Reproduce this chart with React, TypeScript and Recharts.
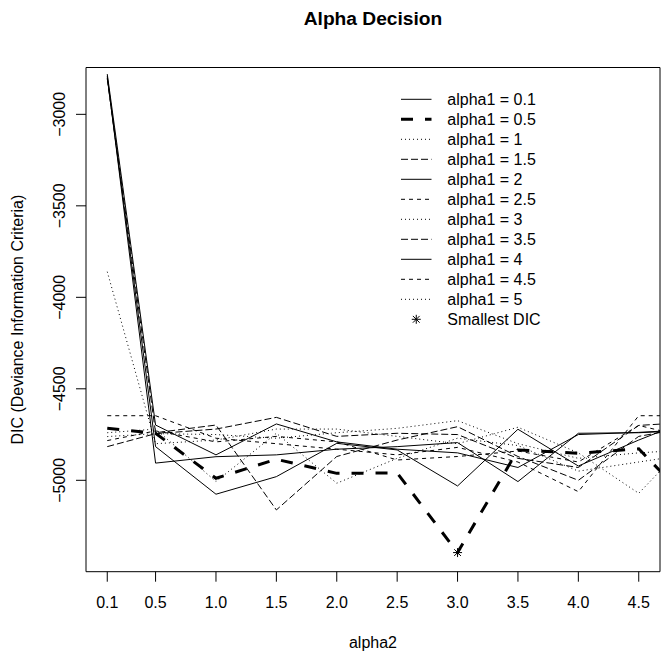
import React from 'react';
import { LineChart, Line, XAxis, YAxis, ReferenceArea, ReferenceDot } from 'recharts';

// ---------- data ----------
const ALPHA2 = [0.1, 0.5, 1.0, 1.5, 2.0, 2.5, 3.0, 3.5, 4.0, 4.5, 5.0];
const X_TICKS = [0.1, 0.5, 1.0, 1.5, 2.0, 2.5, 3.0, 3.5, 4.0, 4.5];
const X_TICK_LABELS = ['0.1', '0.5', '1.0', '1.5', '2.0', '2.5', '3.0', '3.5', '4.0', '4.5'];
const Y_TICKS = [-3000, -3500, -4000, -4500, -5000];
const ALPHA1_LABELS = ['0.1', '0.5', '1', '1.5', '2', '2.5', '3', '3.5', '4', '4.5', '5'];

const DIC_A1_0_1 = [-2790, -4906, -4871, -4861, -4830, -4816, -4794, -5007, -4743, -4740, -4725];
const DIC_A1_0_5 = [-4716, -4743, -4989, -4885, -4962, -4960, -5395, -4834, -4852, -4828, -5170];
const DIC_A1_1 = [-4740, -4720, -5007, -4743, -5016, -4880, -4770, -4810, -4950, -4900, -4850];
const DIC_A1_1_5 = [-2805, -4740, -4698, -5162, -4870, -4780, -4707, -4870, -5000, -4760, -4700];
const DIC_A1_2 = [-2800, -4816, -5076, -4980, -4798, -4834, -5031, -4721, -4922, -4780, -4650];
const DIC_A1_2_5 = [-4647, -4647, -4770, -4800, -4830, -4861, -4820, -4900, -5062, -4647, -4647];
const DIC_A1_3 = [-4761, -4745, -4750, -4770, -4740, -4716, -4674, -4800, -4880, -4850, -4830];
const DIC_A1_3_5 = [-4816, -4745, -4720, -4656, -4760, -4743, -4750, -4880, -4930, -4700, -4680];
const DIC_A1_4 = [-2780, -4698, -4861, -4692, -4790, -4830, -4850, -4930, -4750, -4738, -4720];
const DIC_A1_4_5 = [-4783, -4730, -4790, -4760, -4790, -4889, -4870, -4840, -4900, -4700, -4780];
const DIC_A1_5 = [-3860, -4800, -4780, -4720, -4720, -4760, -4800, -4710, -4850, -5071, -4726];

const DIC_SERIES = [
  DIC_A1_0_1, DIC_A1_0_5, DIC_A1_1, DIC_A1_1_5, DIC_A1_2, DIC_A1_2_5,
  DIC_A1_3, DIC_A1_3_5, DIC_A1_4, DIC_A1_4_5, DIC_A1_5,
];

// ---------- styles ----------
const LINE_DASH = ['', '12 12', '1 3', '7 3', '', '4 4', '1 3', '7 3', '', '4 4', '1 3'];
const LINE_WIDTH = [1, 3, 1, 1, 1, 1, 1, 1, 1, 1, 1];

const X_DOMAIN: [number, number] = [-0.076, 4.676];
const Y_DOMAIN: [number, number] = [-5499.5, -2744];

const FONT = "'Liberation Sans', Arial, Helvetica, sans-serif";

const W = 671;
const H = 661;

const rows = ALPHA2.map((a, i) => {
  const row: Record<string, number> = { x: a };
  DIC_SERIES.forEach((s, k) => {
    row[`s${k}`] = s[i];
  });
  return row;
});

// smallest DIC over all series (visible range)
let best = { x: 0, y: Infinity };
DIC_SERIES.forEach((s) =>
  s.forEach((v, i) => {
    if (ALPHA2[i] <= X_TICKS[X_TICKS.length - 1] && v < best.y) best = { x: ALPHA2[i], y: v };
  })
);

const fmtY = (v: number) => (v < 0 ? '\u2212' + Math.abs(v) : String(v));
const fmtX = (v: number) => {
  const idx = X_TICKS.findIndex((t) => Math.abs(t - v) < 1e-9);
  return idx >= 0 ? X_TICK_LABELS[idx] : String(v);
};

const XTick = (props: any) => {
  const { x, y, payload } = props;
  return (
    <text x={x} y={y} dy={24.6} textAnchor="middle" fontSize={16} fontFamily={FONT} fill="#000">
      {fmtX(payload.value)}
    </text>
  );
};

const YTick = (props: any) => {
  const { x, y, payload } = props;
  return (
    <text
      transform={`translate(${x - 9.5},${y}) rotate(-90)`}
      textAnchor="middle"
      fontSize={16}
      fontFamily={FONT}
      fill="#000"
    >
      {fmtY(payload.value)}
    </text>
  );
};

const Asterisk = (props: any) => {
  const { cx, cy } = props;
  const r = 4.5;
  const d = r * 0.75;
  return (
    <g stroke="#000" strokeWidth={1}>
      <line x1={cx - r} y1={cy} x2={cx + r} y2={cy} />
      <line x1={cx} y1={cy - r} x2={cx} y2={cy + r} />
      <line x1={cx - d} y1={cy - d} x2={cx + d} y2={cy + d} />
      <line x1={cx - d} y1={cy + d} x2={cx + d} y2={cy - d} />
    </g>
  );
};

const LEGEND_X1 = 401;
const LEGEND_X2 = 431.5;
const LEGEND_TEXT_X = 447.3;
const LEGEND_Y0 = 99.3;
const LEGEND_STEP = 20;

export default function App() {
  return (
    <div style={{ position: 'absolute', left: 0, top: 0, width: W, height: H, background: '#fff' }}>
      <LineChart
        width={W}
        height={H}
        data={rows}
        margin={{ top: 67.5, right: 11, bottom: 59.3, left: 46 }}
      >
        <XAxis
          dataKey="x"
          type="number"
          domain={X_DOMAIN}
          allowDataOverflow
          ticks={X_TICKS}
          interval={0}
          height={30}
          tickSize={10}
          tickMargin={2}
          axisLine={false}
          tickLine={{ stroke: '#000', strokeWidth: 1 }}
          tick={<XTick />}
        />
        <YAxis
          type="number"
          domain={Y_DOMAIN}
          allowDataOverflow
          ticks={Y_TICKS}
          interval={0}
          width={40}
          tickSize={10}
          tickMargin={2}
          axisLine={false}
          tickLine={{ stroke: '#000', strokeWidth: 1 }}
          tick={<YTick />}
        />
        <ReferenceArea
          x1={X_DOMAIN[0]}
          x2={X_DOMAIN[1]}
          y1={Y_DOMAIN[0]}
          y2={Y_DOMAIN[1]}
          fill="none"
          fillOpacity={0}
          stroke="#000"
          strokeWidth={1}
          strokeOpacity={1}
        />
        {DIC_SERIES.map((_, k) => (
          <Line
            key={k}
            type="linear"
            dataKey={`s${k}`}
            stroke="#000"
            strokeWidth={LINE_WIDTH[k]}
            strokeDasharray={LINE_DASH[k] || undefined}
            dot={false}
            activeDot={false}
            isAnimationActive={false}
          />
        ))}
        <ReferenceDot x={best.x} y={best.y} r={5} shape={<Asterisk />} />
      </LineChart>
      <svg
        width={W}
        height={H}
        style={{ position: 'absolute', left: 0, top: 0, pointerEvents: 'none' }}
        fontFamily={FONT}
      >
        <text x={373} y={25} textAnchor="middle" fontSize={19.2} fontWeight="bold" fill="#000">
          Alpha Decision
        </text>
        <text x={373} y={648.3} textAnchor="middle" fontSize={16} fill="#000">
          alpha2
        </text>
        <text
          transform="translate(23.2,319.6) rotate(-90)"
          textAnchor="middle"
          fontSize={16}
          fill="#000"
        >
          DIC (Deviance Information Criteria)
        </text>
        {ALPHA1_LABELS.map((lab, k) => {
          const cy = LEGEND_Y0 + k * LEGEND_STEP;
          return (
            <g key={k}>
              <line
                x1={LEGEND_X1}
                x2={LEGEND_X2}
                y1={cy}
                y2={cy}
                stroke="#000"
                strokeWidth={LINE_WIDTH[k]}
                strokeDasharray={LINE_DASH[k] || undefined}
              />
              <text x={LEGEND_TEXT_X} y={cy + 5.75} fontSize={16} fill="#000">
                {`alpha1 = ${lab}`}
              </text>
            </g>
          );
        })}
        <Asterisk cx={(LEGEND_X1 + LEGEND_X2) / 2} cy={LEGEND_Y0 + ALPHA1_LABELS.length * LEGEND_STEP} />
        <text
          x={LEGEND_TEXT_X}
          y={LEGEND_Y0 + ALPHA1_LABELS.length * LEGEND_STEP + 5.75}
          fontSize={16}
          fill="#000"
        >
          Smallest DIC
        </text>
      </svg>
    </div>
  );
}
